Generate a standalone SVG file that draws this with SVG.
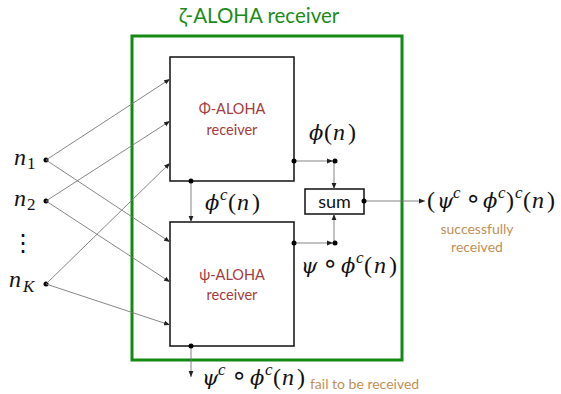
<svg xmlns="http://www.w3.org/2000/svg" width="561" height="394" viewBox="0 0 561 394">
<defs>
<marker id="ah" viewBox="0 0 10 10" refX="10" refY="5" markerWidth="6" markerHeight="6" markerUnits="userSpaceOnUse" orient="auto">
<path d="M0,1 L10,5 L0,9 z" fill="#222"/>
</marker>
<style>
.box{fill:#fff;stroke:#111;stroke-width:1.5}
.wire{fill:none;stroke:#777;stroke-width:0.9;marker-end:url(#ah)}
.dot{fill:#000}
.m{font-family:"Liberation Serif","DejaVu Serif",serif;font-size:24px;fill:#111}
.i{font-style:italic}
.g{font-family:"DejaVu Serif",serif;font-size:21px;font-style:italic}
.sup{font-size:17px}
.op{font-family:"DejaVu Sans",sans-serif;font-size:26px}
.lbl{font-family:Lato,"Open Sans",sans-serif;font-size:14.5px;fill:#a33b3b;text-anchor:middle}
.tan{font-family:Lato,"Open Sans",sans-serif;font-size:14px;fill:#c08f55}
</style>
</defs>
<rect width="561" height="394" fill="#fff"/>

<g id="zeta-receiver">
<rect x="132" y="36" width="270" height="324" fill="none" stroke="#138a13" stroke-width="3"/>
<text x="259" y="23" text-anchor="middle" style="font-family:Lato,'Open Sans',sans-serif;font-size:20.5px;fill:#1a8c1a">ζ-ALOHA receiver</text>
</g>

<g id="phi-receiver">
<rect class="box" x="170" y="57" width="124" height="124"/>
<text class="lbl" x="232" y="114">Φ-ALOHA</text>
<text class="lbl" x="232" y="135">receiver</text>
</g>

<g id="psi-receiver">
<rect class="box" x="170" y="222" width="124" height="124"/>
<text class="lbl" x="232" y="280">ψ-ALOHA</text>
<text class="lbl" x="232" y="300">receiver</text>
</g>

<g id="sum">
<rect class="box" x="305" y="189" width="59" height="25"/>
<text x="334.5" y="208" text-anchor="middle" style="font-family:Lato,'Open Sans',sans-serif;font-size:18px;fill:#111">sum</text>
</g>

<g id="inputs">
<text class="m"><tspan class="i" x="14" y="165">n</tspan><tspan class="sup" x="27" y="169">1</tspan></text>
<text class="m"><tspan class="i" x="14" y="206">n</tspan><tspan class="sup" x="27" y="210">2</tspan></text>
<text class="m" x="23" y="251" text-anchor="middle">⋮</text>
<text class="m"><tspan class="i" x="9" y="287">n</tspan><tspan class="sup i" x="23" y="292">K</tspan></text>
<circle class="dot" cx="46" cy="160" r="2.5"/>
<circle class="dot" cx="46" cy="201" r="2.5"/>
<circle class="dot" cx="46" cy="284" r="2.5"/>
</g>

<g id="connectors">
<line class="wire" x1="46" y1="160" x2="170" y2="79"/>
<line class="wire" x1="46" y1="160" x2="170" y2="242"/>
<line class="wire" x1="46" y1="201" x2="170" y2="121"/>
<line class="wire" x1="46" y1="201" x2="170" y2="282"/>
<line class="wire" x1="46" y1="284" x2="170" y2="163"/>
<line class="wire" x1="46" y1="284" x2="170" y2="325"/>

<line class="wire" x1="294" y1="161" x2="333" y2="161"/>
<line class="wire" x1="334" y1="161" x2="334" y2="189"/>
<line class="wire" x1="294" y1="243" x2="333" y2="243"/>
<line class="wire" x1="334" y1="243" x2="334" y2="214"/>
<line class="wire" x1="364" y1="201" x2="425" y2="201"/>
<line class="wire" x1="191" y1="181" x2="191" y2="222"/>
<line class="wire" x1="191" y1="346" x2="191" y2="377"/>

<circle class="dot" cx="294" cy="161" r="2.5"/>
<circle class="dot" cx="335" cy="161" r="2.5"/>
<circle class="dot" cx="294" cy="243" r="2.5"/>
<circle class="dot" cx="335" cy="243" r="2.5"/>
<circle class="dot" cx="364" cy="201" r="2.5"/>
<circle class="dot" cx="191" cy="181" r="2.5"/>
<circle class="dot" cx="191" cy="346" r="2.5"/>
</g>

<g id="labels">
<text class="m"><tspan class="g" x="309" y="140">ϕ</tspan><tspan x="324" y="140">(</tspan><tspan class="i" x="333" y="140">n</tspan><tspan x="348" y="140">)</tspan></text>

<text class="m"><tspan class="g" x="205" y="210">ϕ</tspan><tspan class="sup i" x="220" y="200">c</tspan><tspan x="228" y="210">(</tspan><tspan class="i" x="237" y="210">n</tspan><tspan x="252" y="210">)</tspan></text>

<text class="m"><tspan class="g" x="301" y="273">ψ</tspan><tspan class="op" x="322" y="272">∘</tspan><tspan class="g" x="341" y="273">ϕ</tspan><tspan class="sup i" x="356" y="263">c</tspan><tspan x="364" y="273">(</tspan><tspan class="i" x="374" y="273">n</tspan><tspan x="389" y="273">)</tspan></text>

<text class="m"><tspan x="427" y="208">(</tspan><tspan class="g" x="437" y="208">ψ</tspan><tspan class="sup i" x="453" y="198">c</tspan><tspan class="op" x="465" y="207">∘</tspan><tspan class="g" x="483" y="208">ϕ</tspan><tspan class="sup i" x="498" y="198">c</tspan><tspan x="506" y="208">)</tspan><tspan class="sup i" x="515" y="198">c</tspan><tspan x="523" y="208">(</tspan><tspan class="i" x="532" y="208">n</tspan><tspan x="547" y="208">)</tspan></text>

<text class="tan" x="477" y="234" text-anchor="middle">successfully</text>
<text class="tan" x="477" y="252" text-anchor="middle">received</text>

<text class="m"><tspan class="g" x="202" y="385">ψ</tspan><tspan class="sup i" x="218" y="375">c</tspan><tspan class="op" x="231" y="384">∘</tspan><tspan class="g" x="250" y="385">ϕ</tspan><tspan class="sup i" x="265" y="375">c</tspan><tspan x="273" y="385">(</tspan><tspan class="i" x="282" y="385">n</tspan><tspan x="297" y="385">)</tspan></text>
<text class="tan" x="310" y="389">fail to be received</text>
</g>
</svg>
